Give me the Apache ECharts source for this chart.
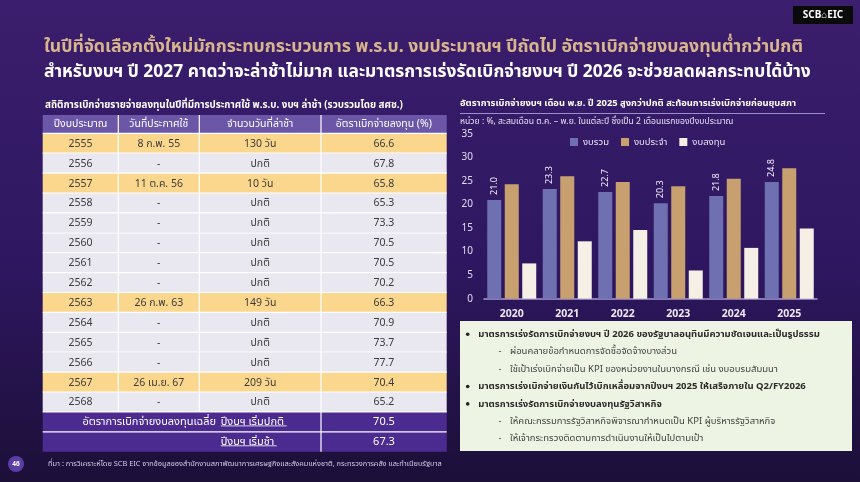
<!DOCTYPE html>
<html>
<head>
<meta charset="utf-8">
<script src="https://cdn.jsdelivr.net/npm/echarts@6/dist/echarts.min.js"></script>
<style>
html,body{margin:0;padding:0;width:860px;height:482px;overflow:hidden;background:#2b1655;}
#c{width:860px;height:482px;}
</style>
</head>
<body>
<div id="c"></div>
<script>
// ---------- data ----------
const headline1 = 'ในปีที่จัดเลือกตั้งใหม่มักกระทบกระบวนการ พ.ร.บ. งบประมาณฯ ปีถัดไป อัตราเบิกจ่ายงบลงทุนต่ำกว่าปกติ';
const headline2 = 'สำหรับงบฯ ปี 2027 คาดว่าจะล่าช้าไม่มาก และมาตรการเร่งรัดเบิกจ่ายงบฯ ปี 2026 จะช่วยลดผลกระทบได้บ้าง';
const tableTitle = 'สถิติการเบิกจ่ายรายจ่ายลงทุนในปีที่มีการประกาศใช้ พ.ร.บ. งบฯ ล่าช้า (รวบรวมโดย สศช.)';
const tableHeaders = ['ปีงบประมาณ', 'วันที่ประกาศใช้', 'จำนวนวันที่ล่าช้า', 'อัตราเบิกจ่ายลงทุน (%)'];
const fiscalYears = ['2555','2556','2557','2558','2559','2560','2561','2562','2563','2564','2565','2566','2567','2568'];
const announceDates = ['8 ก.พ. 55','-','11 ต.ค. 56','-','-','-','-','-','26 ก.พ. 63','-','-','-','26 เม.ย. 67','-'];
const delayDays = ['130 วัน','ปกติ','10 วัน','ปกติ','ปกติ','ปกติ','ปกติ','ปกติ','149 วัน','ปกติ','ปกติ','ปกติ','209 วัน','ปกติ'];
const capexRates = ['66.6','67.8','65.8','65.3','73.3','70.5','70.5','70.2','66.3','70.9','73.7','77.7','70.4','65.2'];
const summaryLead = 'อัตราการเบิกจ่ายงบลงทุนเฉลี่ย';
const summaryLabels = ['ปีงบฯ เริ่มปกติ', 'ปีงบฯ เริ่มช้า'];
const summaryValues = ['70.5', '67.3'];

const chartTitle = 'อัตราการเบิกจ่ายงบฯ เดือน พ.ย. ปี 2025 สูงกว่าปกติ สะท้อนการเร่งเบิกจ่ายก่อนยุบสภา';
const chartUnit = 'หน่วย : %, สะสมเดือน ต.ค. – พ.ย. ในแต่ละปี ซึ่งเป็น 2 เดือนแรกของปีงบประมาณ';
const years = ['2020','2021','2022','2023','2024','2025'];
const seriesNames = ['งบรวม','งบประจำ','งบลงทุน'];
const totalBudget = [21.0, 23.3, 22.7, 20.3, 21.8, 24.8];
const regularBudget = [24.3, 26.0, 24.8, 23.9, 25.5, 27.7];
const capitalBudget = [7.5, 12.2, 14.6, 6.0, 10.8, 14.9];
const yTicks = [0, 5, 10, 15, 20, 25, 30, 35];

const notes = [
  {lvl:0, t:'มาตรการเร่งรัดการเบิกจ่ายงบฯ ปี 2026 ของรัฐบาลอนุทินมีความชัดเจนและเป็นรูปธรรม'},
  {lvl:1, t:'ผ่อนคลายข้อกำหนดการจัดซื้อจัดจ้างบางส่วน'},
  {lvl:1, t:'ใช้เป้าเร่งเบิกจ่ายเป็น KPI ของหน่วยงานในบางกรณี เช่น งบอบรมสัมมนา'},
  {lvl:0, t:'มาตรการเร่งเบิกจ่ายเงินกันไว้เบิกเหลื่อมจากปีงบฯ 2025 ให้เสร็จภายใน Q2/FY2026'},
  {lvl:0, t:'มาตรการเร่งรัดการเบิกจ่ายงบลงทุนรัฐวิสาหกิจ'},
  {lvl:1, t:'ให้คณะกรรมการรัฐวิสาหกิจพิจารณากำหนดเป็น KPI ผู้บริหารรัฐวิสาหกิจ'},
  {lvl:1, t:'ให้เจ้ากระทรวงติดตามการดำเนินงานให้เป็นไปตามเป้า'}
];
const sourceText = 'ที่มา : การวิเคราะห์โดย SCB EIC จากข้อมูลของสำนักงานสภาพัฒนาการเศรษฐกิจและสังคมแห่งชาติ, กระทรวงการคลัง และทำเนียบรัฐบาล';
const pageNo = '46';

// ---------- layout ----------
const FONT = '"Noto Sans","Noto Sans Thai","Tahoma",sans-serif';
const g = [];
function txt(x, y, s, opt) {
  opt = opt || {};
  g.push({type:'text', x:x, y:y, z:opt.z || 10, style:{
    text:s, fill:opt.fill || '#fff',
    font:(opt.weight || 'normal') + ' ' + (opt.size || 11) + 'px ' + FONT,
    textAlign:opt.align || 'left', textVerticalAlign:opt.va || 'middle',
    align:opt.align || 'left', verticalAlign:opt.va || 'middle'
  }});
}
function rect(x, y, w, h, fill, z) {
  g.push({type:'rect', z:z || 5, shape:{x:x, y:y, width:w, height:h}, style:{fill:fill}});
}
function line(x1, y1, x2, y2, stroke, w, z) {
  g.push({type:'line', z:z || 6, shape:{x1:x1, y1:y1, x2:x2, y2:y2}, style:{stroke:stroke, lineWidth:w || 1}});
}

// headline
txt(44, 47, headline1, {fill:'#d8b58d', weight:'bold', size:17.7});
txt(44, 72, headline2, {fill:'#ffffff', weight:'bold', size:17.4});
// logo
rect(793, 6, 60, 18, '#0a0a0a', 8);
txt(823, 15.5, 'SCB⌂EIC', {fill:'#fff', weight:'bold', size:10, align:'center'});

// table
txt(45, 105, tableTitle, {weight:'bold', size:9.8});
const colX = [42.7, 118.3, 199.3, 321, 446.7];
const headTop = 115, headH = 18.3, rowTop = 133.3, rowH = 19.9;
const tblL = colX[0], tblR = colX[4];
rect(tblL, headTop, tblR - tblL, headH, '#6b56a8');
tableHeaders.forEach((h, i) => txt((colX[i] + colX[i+1]) / 2, headTop + headH / 2, h, {size:10.5, align:'center'}));
fiscalYears.forEach((fy, r) => {
  const y = rowTop + r * rowH;
  const hi = announceDates[r] !== '-';
  rect(tblL, y, tblR - tblL, rowH, hi ? '#fbd78e' : '#e9e7ef');
  const cells = [fy, announceDates[r], delayDays[r], capexRates[r]];
  cells.forEach((c, i) => txt((colX[i] + colX[i+1]) / 2, y + rowH / 2 + 0.5, c, {fill:'#3b3b3b', size:10.5, align:'center'}));
  line(tblL, y, tblR, y, '#ffffff', 1.2);
});
const sumTop = rowTop + fiscalYears.length * rowH;
summaryValues.forEach((v, r) => {
  const y = sumTop + r * rowH;
  rect(tblL, y, tblR - tblL, rowH, '#4c2b91');
  line(tblL, y, tblR, y, '#ffffff', 1.2);
  txt(384, y + rowH / 2, v, {size:11, align:'center'});
  txt(220.7, y + rowH / 2, summaryLabels[r], {size:11});
});
txt(216, sumTop + rowH / 2, summaryLead, {size:11, align:'right'});
line(220.7, sumTop + 14, 286.7, sumTop + 14, '#ffffff', 0.8);
line(220.7, sumTop + rowH + 14, 276.7, sumTop + rowH + 14, '#ffffff', 0.8);
// vertical separators
[1, 2, 3].forEach(i => line(colX[i], headTop, colX[i], sumTop, '#ffffff', 1.2));
line(colX[3], sumTop, colX[3], sumTop + 2 * rowH, '#ffffff', 1.2);

// chart title
txt(460, 103, chartTitle, {weight:'bold', size:9.4});
line(460, 113.5, 825, 113.5, '#9c8fcb', 1);
txt(460, 122, chartUnit, {size:8.6, fill:'#e6e0f2'});

// notes box
rect(460, 321, 392, 130, '#eef4e3');
notes.forEach((n, i) => {
  const y = 334.3 + i * 17.4;
  if (n.lvl === 0) {
    g.push({type:'circle', z:10, shape:{cx:467.7, cy:y, r:1.8}, style:{fill:'#222'}});
    txt(478.3, y, n.t, {fill:'#2a2a2a', weight:'bold', size:9.5});
  } else {
    txt(500, y, '-', {fill:'#444', size:9.5, align:'center'});
    txt(510, y, n.t, {fill:'#444', size:9.5});
  }
});

// footer
g.push({type:'circle', z:10, shape:{cx:16, cy:464, r:8}, style:{fill:'#5b3da8'}});
txt(16, 464, pageNo, {size:6.5, align:'center', weight:'bold'});
txt(48, 464, sourceText, {size:7.4, fill:'#d4cde6'});

const chart = echarts.init(document.getElementById('c'));
const barColors = ['#6e70b2', '#c8a06f', '#f6efe6'];
chart.setOption({
  backgroundColor: {type:'linear', x:0, y:0, x2:0, y2:1, colorStops:[
    {offset:0, color:'#3b1e6d'}, {offset:0.55, color:'#2e1760'}, {offset:1, color:'#1c0f38'}]},
  animation: false,
  textStyle: {fontFamily: FONT},
  legend: {
    data: seriesNames, top: 132, left: 565, itemWidth: 8, itemHeight: 8, itemGap: 12,
    icon: 'rect', textStyle: {color: '#e8e2f4', fontSize: 9.5, fontFamily: FONT}
  },
  grid: {left: 484, right: 43, top: 134, bottom: 183.3},
  xAxis: {
    type: 'category', data: years,
    axisLine: {lineStyle: {color: '#a79cd0', width: 1.5}},
    axisTick: {show: false},
    axisLabel: {color: '#eee8f8', fontSize: 10.5, fontWeight: 'bold', margin: 10}
  },
  yAxis: {
    type: 'value', min: yTicks[0], max: yTicks[yTicks.length - 1], interval: 5,
    splitLine: {show: false}, axisLine: {show: false}, axisTick: {show: false},
    axisLabel: {color: '#e2dcf0', fontSize: 10, margin: 11}
  },
  series: [
    {name: seriesNames[0], type: 'bar', data: totalBudget, barWidth: 14, barGap: '25%',
     itemStyle: {color: barColors[0]},
     label: {show: true, position: 'top', rotate: 90, align: 'left', verticalAlign: 'middle', distance: 5,
             color: '#f2eefa', fontSize: 9, formatter: p => p.value.toFixed(1)}},
    {name: seriesNames[1], type: 'bar', data: regularBudget, barWidth: 14, barGap: '25%',
     itemStyle: {color: barColors[1]}},
    {name: seriesNames[2], type: 'bar', data: capitalBudget, barWidth: 14, barGap: '25%',
     itemStyle: {color: barColors[2]}}
  ],
  graphic: {elements: g}
});
</script>
</body>
</html>
